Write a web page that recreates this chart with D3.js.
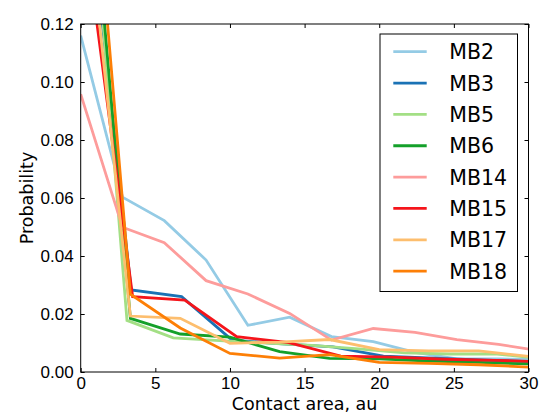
<!DOCTYPE html>
<html>
<head>
<meta charset="utf-8">
<script src="https://cdn.jsdelivr.net/npm/d3@7"></script>
<style>
  body { margin: 0; background: #fff; }
  svg { font-family: "DejaVu Sans", sans-serif; }
</style>
</head>
<body>
<div id="chart"></div>
<script>
// series names, in drawing / legend order
var seriesNames = ["MB2", "MB3", "MB5", "MB6", "MB14", "MB15", "MB17", "MB18"];
var seriesColors = ["#94cbe5", "#1a72b5", "#a3df85", "#14a02a", "#fd9c9b", "#f5151b", "#fdbe6e", "#fd7f06"];

// bin centres (contact area, au) and probabilities per series
var xMB2 = [0, 2.8, 5.6, 8.4, 11.2, 14.0, 16.8, 19.6, 22.4, 25.2, 28.0, 30.8];
var yMB2 = [0.116, 0.0603, 0.0522, 0.0386, 0.0161, 0.0189, 0.0122, 0.0105, 0.0068, 0.0045, 0.0045, 0.0043];
var xMB3 = [0, 3.38, 6.76, 10.14, 13.52, 16.9, 20.28, 23.66, 27.04, 30.42];
var yMB3 = [0.189, 0.0283, 0.0260, 0.0110, 0.0097, 0.0087, 0.0055, 0.0048, 0.0041, 0.0035];
var xMB5 = [0, 3.1, 6.2, 9.3, 12.4, 15.5, 18.6, 21.7, 24.8, 27.9, 31.0];
var yMB5 = [0.2157, 0.0178, 0.0118, 0.0108, 0.0100, 0.0092, 0.0080, 0.0066, 0.0062, 0.0062, 0.0045];
var xMB6 = [0, 3.33, 6.67, 10.0, 13.33, 16.67, 20.0, 23.33, 26.67, 30.0];
var yMB6 = [0.2137, 0.0185, 0.0131, 0.0120, 0.0070, 0.0047, 0.0045, 0.0038, 0.0033, 0.0028];
var xMB14 = [0, 2.8, 5.6, 8.4, 11.2, 14.0, 16.8, 19.6, 22.4, 25.2, 28.0, 30.8];
var yMB14 = [0.0958, 0.0499, 0.0446, 0.0315, 0.0269, 0.0202, 0.0110, 0.0150, 0.0137, 0.0112, 0.0095, 0.0073];
var xMB15 = [0, 3.48, 6.97, 10.45, 13.94, 17.42, 20.9, 24.39, 27.87, 31.36];
var yMB15 = [0.163, 0.0260, 0.0248, 0.0122, 0.0101, 0.0055, 0.0051, 0.0044, 0.0040, 0.0035];
var xMB17 = [0, 3.33, 6.67, 10.0, 13.33, 16.67, 20.0, 23.33, 26.67, 30.0];
var yMB17 = [0.1815, 0.0193, 0.0185, 0.0099, 0.0103, 0.0112, 0.0077, 0.0073, 0.0073, 0.0054];
var xMB18 = [0, 3.33, 6.67, 10.0, 13.33, 16.67, 20.0, 23.33, 26.67, 30.0];
var yMB18 = [0.2294, 0.0268, 0.0152, 0.0064, 0.0048, 0.0060, 0.0033, 0.0030, 0.0025, 0.0017];

var xTicks = [0, 5, 10, 15, 20, 25, 30];
var yTicks = [0, 0.02, 0.04, 0.06, 0.08, 0.10, 0.12];

var xs = [xMB2, xMB3, xMB5, xMB6, xMB14, xMB15, xMB17, xMB18];
var ys = [yMB2, yMB3, yMB5, yMB6, yMB14, yMB15, yMB17, yMB18];

var series = seriesNames.map(function (name, i) {
   return {
      name: name,
      color: seriesColors[i],
      points: xs[i].map(function (x, j) { return [x, ys[i][j]]; })
   };
});

var width = 540, height = 414,
   margin = { top: 24, right: 11.5, bottom: 42, left: 80.7 };
var w = width - margin.left - margin.right,
   h = height - margin.top - margin.bottom;

var svg = d3.select("#chart")
   .append("svg")
   .attr("width", width)
   .attr("height", height);

var g = svg.append("g")
   .attr("transform", "translate(" + margin.left + "," + margin.top + ")");

var x = d3.scaleLinear().domain([0, 30]).range([0, w]);
var y = d3.scaleLinear().domain([0, 0.12]).range([h, 0]);

g.append("clipPath").attr("id", "clip")
   .append("rect").attr("width", w).attr("height", h);

// lines
var line = d3.line()
   .x(function (d) { return x(d[0]); })
   .y(function (d) { return y(d[1]); });

g.append("g").attr("clip-path", "url(#clip)")
   .selectAll("path")
   .data(series)
   .enter()
   .append("path")
   .attr("d", function (d) { return line(d.points); })
   .attr("fill", "none")
   .attr("stroke", function (d) { return d.color; })
   .attr("stroke-width", 2.8)
   .attr("stroke-linejoin", "miter");

// axes, ticks pointing inward on all four sides
var tickLen = 4;
function styleAxis(sel) {
   sel.select(".domain").remove();
   sel.selectAll("line").attr("stroke", "#000");
   sel.selectAll("text").attr("fill", "#000").style("font-size", "17px");
}

g.append("g")
   .attr("transform", "translate(0," + h + ")")
   .call(d3.axisBottom(x).tickValues(xTicks).tickSizeInner(-tickLen).tickSizeOuter(0).tickPadding(5).tickFormat(d3.format("d")))
   .call(styleAxis);

g.append("g")
   .call(d3.axisTop(x).tickValues(xTicks).tickSizeInner(-tickLen).tickSizeOuter(0).tickFormat(""))
   .call(styleAxis);

g.append("g")
   .call(d3.axisLeft(y).tickValues(yTicks).tickSizeInner(-tickLen).tickSizeOuter(0).tickPadding(7).tickFormat(d3.format(".2f")))
   .call(styleAxis);

g.append("g")
   .attr("transform", "translate(" + w + ",0)")
   .call(d3.axisRight(y).tickValues(yTicks).tickSizeInner(-tickLen).tickSizeOuter(0).tickFormat(""))
   .call(styleAxis);

// frame
g.append("rect")
   .attr("width", w).attr("height", h)
   .attr("fill", "none").attr("stroke", "#000").attr("stroke-width", 1);

// axis labels
svg.append("text")
   .attr("x", margin.left + w / 2).attr("y", 410)
   .attr("text-anchor", "middle")
   .style("font-size", "17.5px")
   .text("Contact area, au");

svg.append("text")
   .attr("transform", "translate(33," + (margin.top + h / 2) + ") rotate(-90)")
   .attr("text-anchor", "middle")
   .style("font-size", "17.5px")
   .text("Probability");

// legend
var legend = svg.append("g");
legend.append("rect")
   .attr("x", 380).attr("y", 34)
   .attr("width", 137.5).attr("height", 257.5)
   .attr("fill", "#fff").attr("stroke", "#000").attr("stroke-width", 1);

var item = legend.selectAll(".item")
   .data(series)
   .enter()
   .append("g")
   .attr("transform", function (d, i) { return "translate(0," + (51.7 + i * 31.35) + ")"; });

item.append("line")
   .attr("x1", 393.3).attr("x2", 426.7)
   .attr("stroke", function (d) { return d.color; })
   .attr("stroke-width", 2.8);

item.append("text")
   .attr("x", 449.3).attr("y", 7.5)
   .style("font-size", "20.5px")
   .text(function (d) { return d.name; });
</script>
</body>
</html>
